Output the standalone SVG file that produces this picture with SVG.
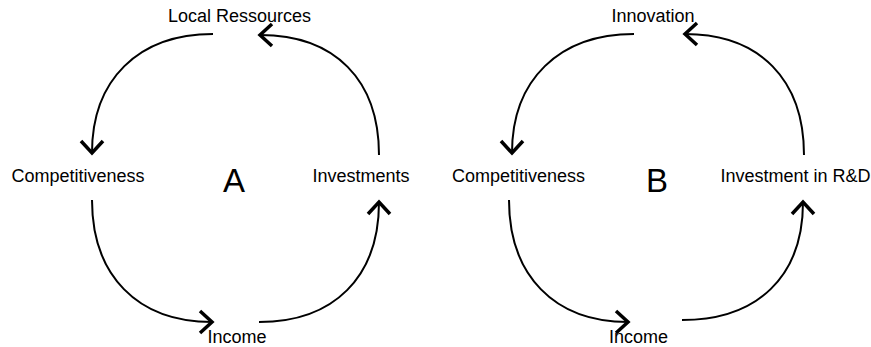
<svg xmlns="http://www.w3.org/2000/svg" width="871" height="347" viewBox="0 0 871 347">
<style>
.lbl{font-family:"Liberation Sans",Arial,sans-serif;font-size:18px;fill:#000;text-anchor:middle}
.big{font-family:"Liberation Sans",Arial,sans-serif;font-size:33px;fill:#000;text-anchor:middle}
.edge{fill:none;stroke:#000;stroke-width:2;marker-end:url(#arr)}
</style>
<defs>
<marker id="arr" markerUnits="userSpaceOnUse" markerWidth="30" markerHeight="30" viewBox="-15 -15 30 30" refX="0" refY="0" orient="auto">
<path d="M-12,-11 L0,0 L-12,11" fill="none" stroke="#000" stroke-width="3.5"/>
</marker>
</defs>
<rect width="871" height="347" fill="#fff"/>
<g id="connectors">
<path class="edge" d="M213,34 C138,34 92,80 92,153"/>
<path class="edge" d="M379,155 C379,80 335,35 260,35"/>
<path class="edge" d="M92,200 C92,275 137,322 212,322"/>
<path class="edge" d="M259,322 C334,322 379,277 379,202"/>
<path class="edge" d="M634,34 C559,34 512,80 512,153"/>
<path class="edge" d="M804,155 C804,80 760,34 685,34"/>
<path class="edge" d="M509,200 C509,275 554,322 628,322"/>
<path class="edge" d="M682,320 C757,320 803,277 803,202"/>
</g>
<g id="a-local"><text class="lbl" x="239.5" y="22">Local Ressources</text></g>
<g id="a-comp"><text class="lbl" x="78" y="182">Competitiveness</text></g>
<g id="a-inv"><text class="lbl" x="361" y="182">Investments</text></g>
<g id="a-income"><text class="lbl" x="237" y="343">Income</text></g>
<g id="a-label"><text class="big" x="234" y="192">A</text></g>
<g id="b-innov"><text class="lbl" x="653" y="22">Innovation</text></g>
<g id="b-comp"><text class="lbl" x="518.5" y="182">Competitiveness</text></g>
<g id="b-inv"><text class="lbl" x="795.5" y="182">Investment in R&amp;D</text></g>
<g id="b-income"><text class="lbl" x="638.5" y="343">Income</text></g>
<g id="b-label"><text class="big" x="657" y="192">B</text></g>
</svg>
